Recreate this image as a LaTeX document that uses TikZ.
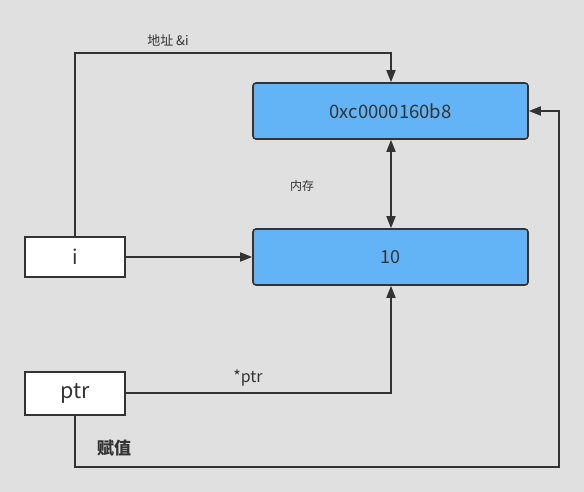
\documentclass[tikz,border=0pt]{standalone}
\usepackage{fontspec}
\setmainfont{Noto Sans CJK SC}
\usetikzlibrary{arrows.meta}
\definecolor{bg}{HTML}{E0E0E0}
\definecolor{memblue}{HTML}{63B4F6}
\definecolor{ink}{HTML}{333333}
\tikzset{
  tip/.tip={Triangle[length=12pt,width=9pt]},
  membox/.style={draw=ink, line width=1.6pt, fill=memblue, rounded corners=3pt, minimum width=275pt, minimum height=56pt, inner sep=0pt, text=ink, font=\fontsize{18}{20}\selectfont},
  varbox/.style={draw=ink, line width=1.6pt, fill=white, minimum width=100pt, minimum height=40pt, inner sep=0pt, text=ink, font=\fontsize{20}{22}\selectfont},
  conn/.style={draw=ink, line width=1.6pt, -tip},
  lbl/.style={text=ink, inner sep=0pt}
}
\begin{document}
\begin{tikzpicture}[x=1pt,y=-1pt]
\fill[bg] (0,0) rectangle (584,492);
\useasboundingbox (0,0) rectangle (584,492);
\node[membox, font=\fontsize{18.5}{20}\selectfont] (addr) at (390.5,111) {0xc0000160b8};
\node[membox] (val) at (390.5,257) {10};
\node[varbox] (i) at (75,257) {i};
\node[varbox, minimum height=43pt, font=\fontsize{21.5}{23}\selectfont] (ptr) at (75,393.5) {ptr};
\coordinate (c1) at (75,53);
\coordinate (c2) at (391,53);
\coordinate (c3) at (391,393);
\coordinate (c4) at (75,467);
\coordinate (c5) at (559,467);
\coordinate (c6) at (559,111);
\draw[conn] (i.north) -- (c1) -- (c2) -- (addr.north -| c2);
\draw[conn] (i.east) -- (val.west);
\draw[conn, tip-tip] (addr.south -| c2) -- (val.north -| c2);
\draw[conn] (ptr.east |- c3) -- (c3) -- (val.south -| c3);
\draw[conn] (ptr.south) -- (c4) -- (c5) -- (c6) -- (addr.east);
\node[lbl, font=\fontsize{13}{15}\selectfont] (l1) at (168,40) {地址 \&i};
\node[lbl, font=\fontsize{12}{14}\selectfont] (l2) at (302,186) {内存};
\node[lbl, font=\fontsize{16}{18}\selectfont] (l3) at (248,378) {*ptr};
\node[lbl, font=\fontsize{17}{19}\selectfont\bfseries] (l4) at (114,448) {赋值};
\end{tikzpicture}
\end{document}
